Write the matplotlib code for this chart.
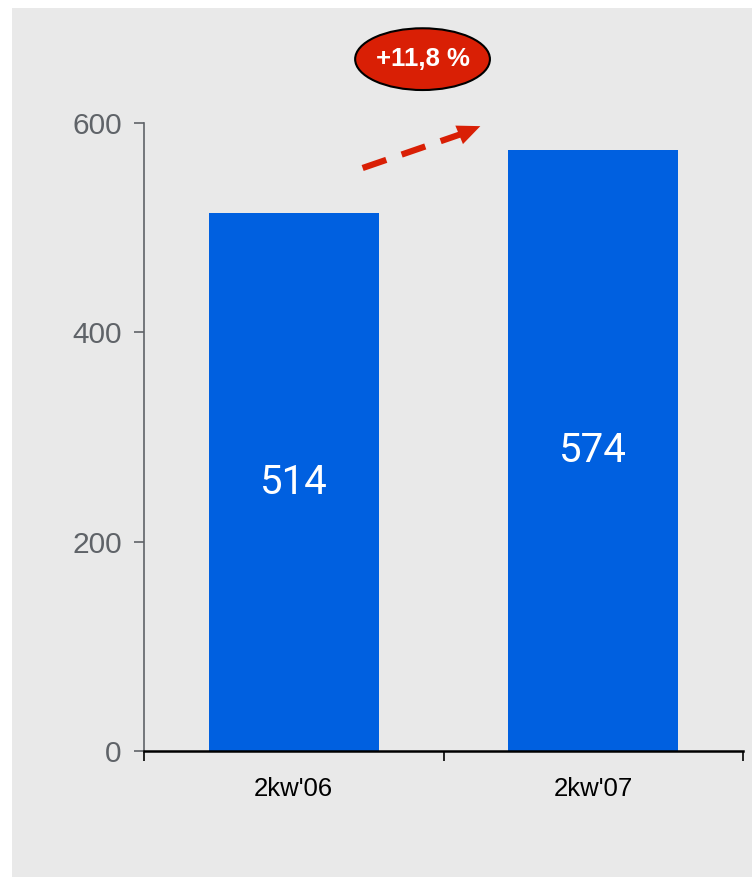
import matplotlib
matplotlib.use("Agg")
import matplotlib.pyplot as plt
from matplotlib.patches import Ellipse, Rectangle

categories = ["2kw'06", "2kw'07"]
values = [514, 574]
growth_label = "+11,8 %"
yticks = [0, 200, 400, 600]

BLUE = "#0060e0"
RED = "#d91f05"
PANEL = "#e9e9e9"
GREY = "#5f6368"

fig = plt.figure(figsize=(7.52, 8.77), dpi=100)
fig.patch.set_facecolor("white")
# grey panel behind the chart
fig.patches.append(Rectangle((12 / 752, 0), 740 / 752, 869 / 877,
                             transform=fig.transFigure, fc=PANEL, ec="none",
                             zorder=-10))

ax = fig.add_axes([144 / 752, 1 - 751 / 877, 599 / 752, 628 / 877])
ax.set_facecolor("none")

x = list(range(len(categories)))
ax.bar(x, values, width=0.567, color=BLUE, zorder=2)
for xi, v in zip(x, values):
    ax.text(xi, v / 2, str(v), ha="center", va="center", color="white",
            fontsize=29, family="Roboto", zorder=3)

ax.set_xlim(-0.5, 1.5)
ax.set_ylim(0, 600)
ax.set_yticks(yticks)
ax.set_yticklabels([str(t) for t in yticks], fontsize=21.5,
                   family="Liberation Sans", color=GREY)
ax.tick_params(axis="y", direction="out", length=7, width=1.2, color=GREY,
               pad=9)

ax.set_xticks(x)
ax.set_xticklabels(categories, fontsize=18.5, family="Liberation Sans",
                   color="black")
ax.tick_params(axis="x", which="major", length=0, pad=19)
ax.set_xticks([-0.5, 0.5, 1.5], minor=True)
ax.tick_params(axis="x", which="minor", direction="out", length=7,
               width=1.2, color="black")

for s in ("top", "right"):
    ax.spines[s].set_visible(False)
ax.spines["left"].set_color(GREY)
ax.spines["left"].set_linewidth(1.2)
ax.spines["bottom"].set_color("black")
ax.spines["bottom"].set_linewidth(1.8)
ax.spines["bottom"].set_zorder(4)

# dashed growth arrow
ax.plot([0.23, 0.565], [557, 590], color=RED, lw=4.5, dashes=(4, 2.6),
        solid_capstyle="butt", dash_capstyle="butt", clip_on=False, zorder=3)
ax.annotate("", xy=(0.623, 597), xytext=(0.555, 589),
            arrowprops=dict(arrowstyle="-|>,head_length=0.55,head_width=0.24",
                            mutation_scale=30, color=RED, lw=0,
                            shrinkA=0, shrinkB=0),
            annotation_clip=False)

# growth bubble
ax.add_patch(Ellipse((0.43, 661), 0.45, 59, fc=RED, ec="black", lw=1.5,
                     clip_on=False, zorder=3))
ax.text(0.43, 661, growth_label, ha="center", va="center", color="white",
        fontsize=18.5, fontweight="bold", family="Liberation Sans", zorder=4)

fig.savefig("out.png", dpi=100)
